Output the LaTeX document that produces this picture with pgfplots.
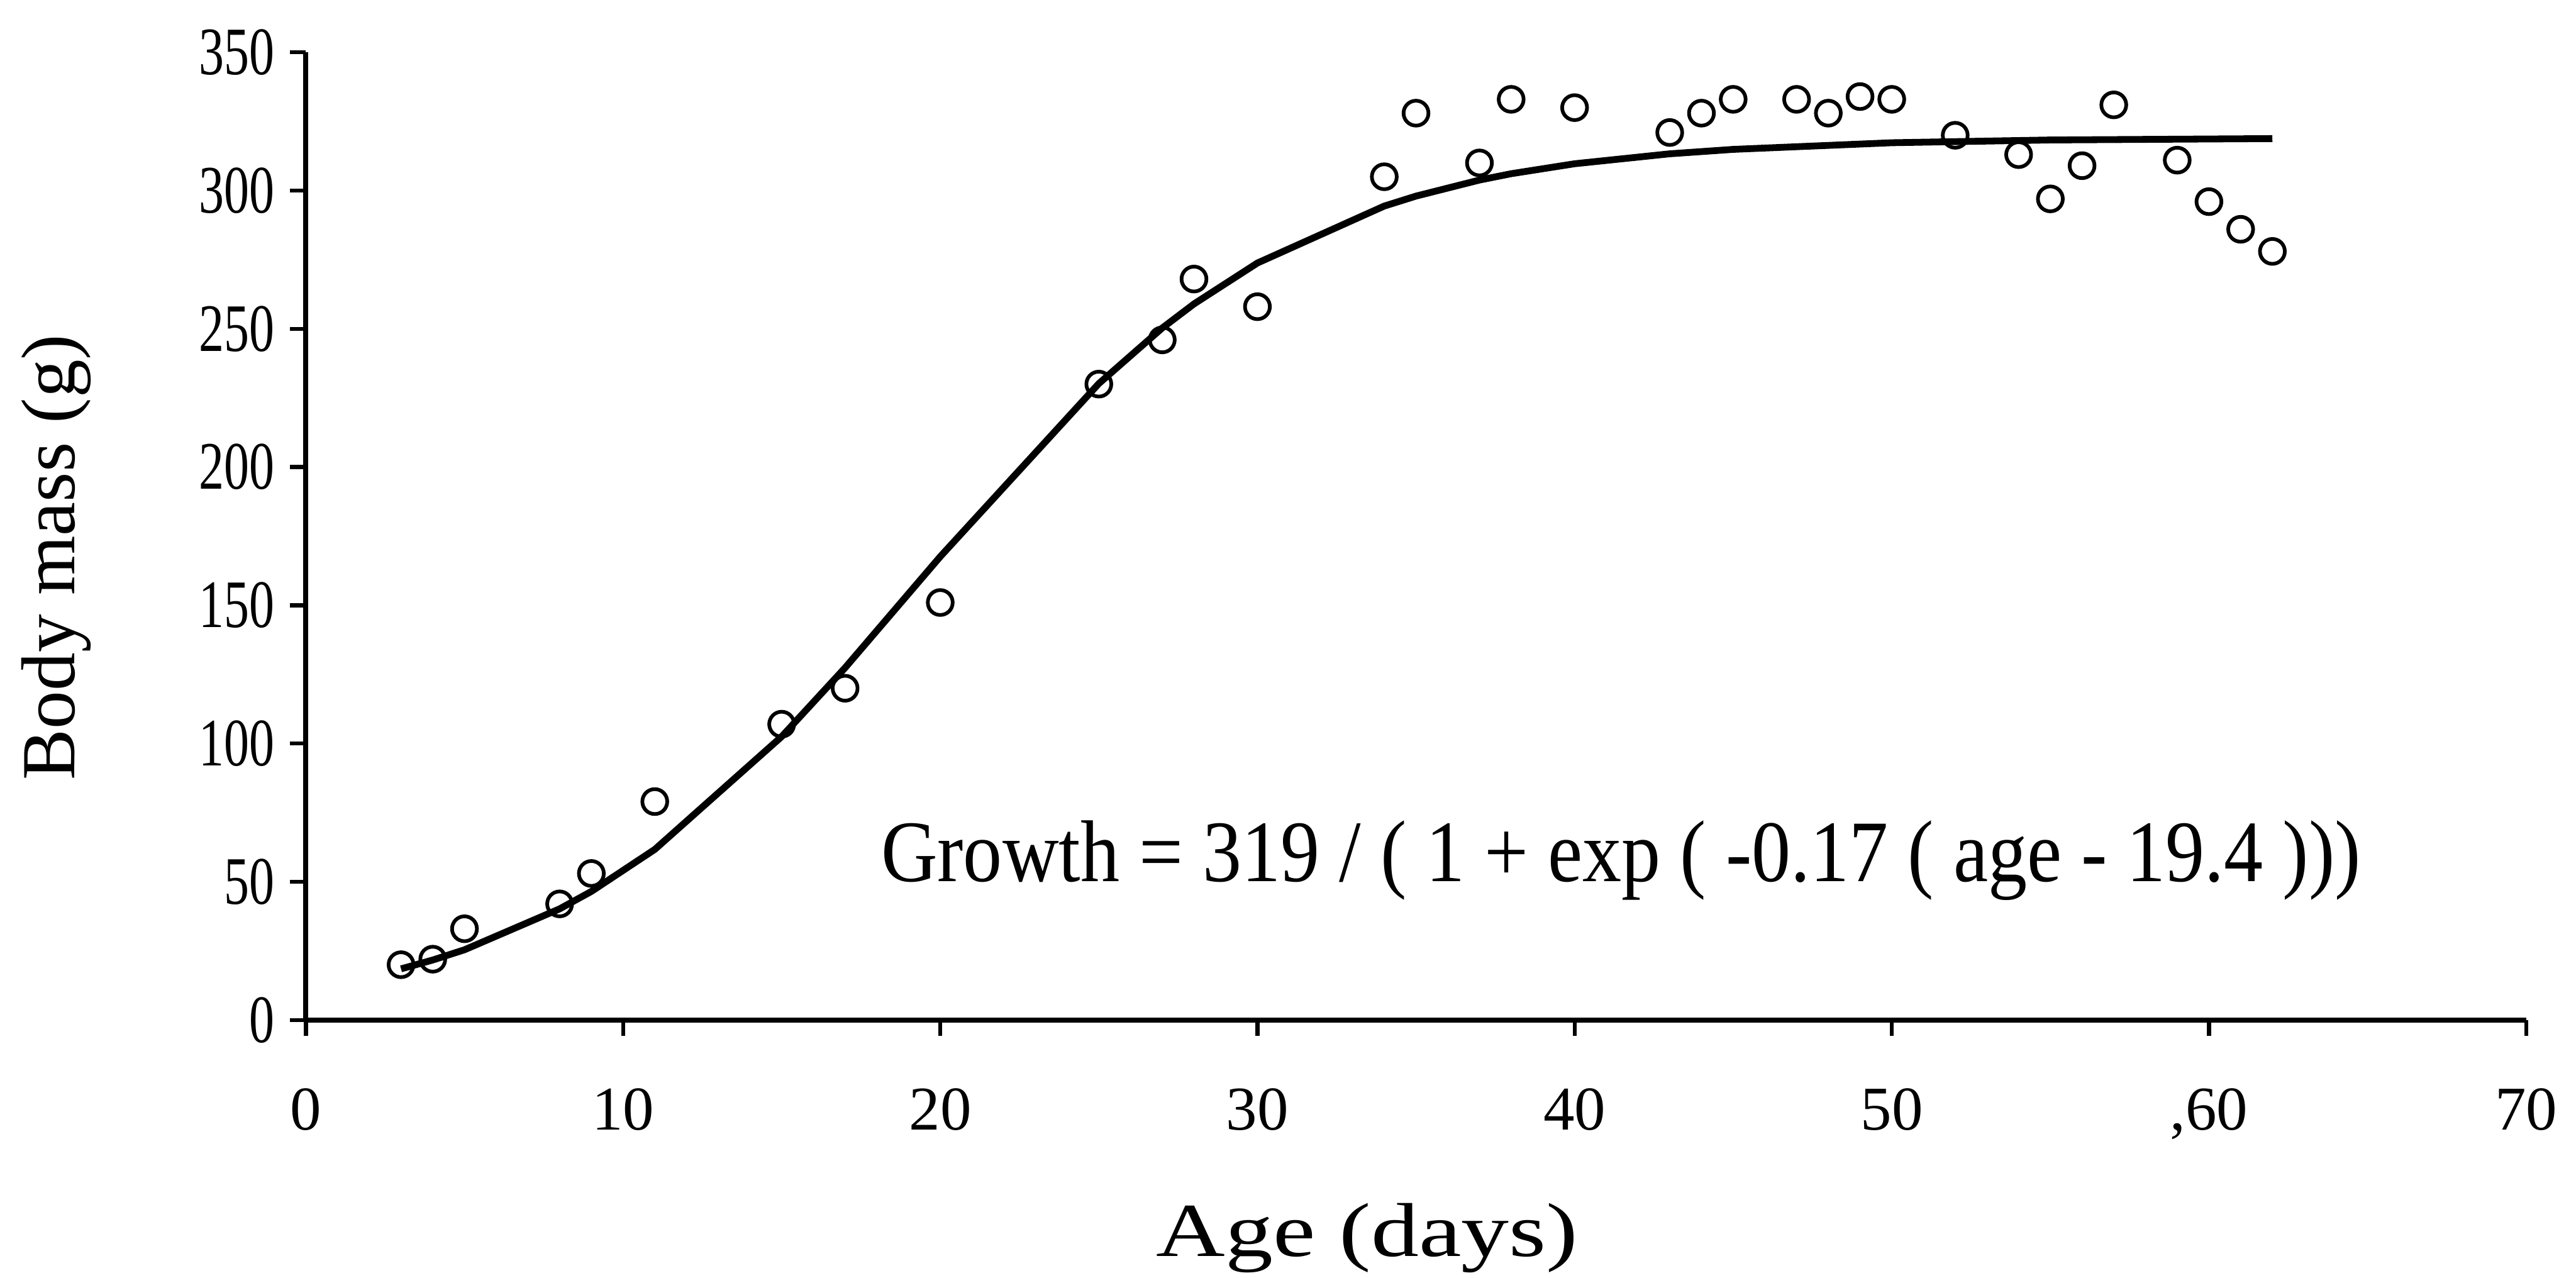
\documentclass[border=0pt]{standalone}
\usepackage{fontspec}
\setmainfont{Liberation Serif}
\newfontfamily\ytickfont[FakeStretch=0.74]{Liberation Serif}
\newfontfamily\formfont[FakeStretch=0.89]{Liberation Serif}
\newfontfamily\xlabfont[FakeStretch=1.25]{Liberation Serif}
\usepackage{pgfplots}
\pgfplotsset{compat=1.18}
\begin{document}
\begin{tikzpicture}
\useasboundingbox (-1.90cm,-1.60cm) rectangle (14.10cm,6.335cm);
\begin{axis}[
  scale only axis,
  width=13.79cm, height=6.01cm,
  at={(0,0)}, anchor=origin,
  xmin=0, xmax=70, ymin=0, ymax=350,
  axis lines*=left,
  axis line style={line width=0.9pt},
  every tick/.style={line width=0.7pt, black},
  tick align=outside,
  major tick length=0.1cm,
  xtick={0,10,20,30,40,50,60,70},
  xticklabels={0,10,20,30,40,50,{,60},70},
  ytick={0,50,100,150,200,250,300,350},
  /pgf/number format/assume math mode=true,
  xticklabel style={font=\fontsize{11}{13}\selectfont, yshift=-0.2cm},
  yticklabel style={font=\fontsize{12}{13}\ytickfont, xshift=0.03cm},
  xlabel={Age (days)}, ylabel={Body mass (g)},
  xlabel style={font=\fontsize{13.5}{16}\xlabfont, at={(axis description cs:0.478,0)}, anchor=base, yshift=-1.467cm},
  ylabel style={font=\fontsize{13.5}{16}\selectfont, yshift=0.43cm, xshift=-0.13cm},
  clip=false,
]
\addplot[black, line width=1.2pt, mark=none] coordinates {
(3,18.5) (4,21.7) (5,25.4) (8,40.2) (9,46.5) (11,61.7) (15,102.5) (17,127.4)
(20,167.6) (25,230.2) (27,250.3) (28,259.0) (30,273.8) (34,294.4) (35,298.0)
(37,303.8) (38,306.1) (40,309.7) (43,313.3) (45,314.9) (50,317.3) (55,318.3) (62,318.8)
};
\addplot[only marks, mark=o, mark size=2.2pt, black, line width=0.65pt] coordinates {
(3,20) (4,22) (5,33) (8,42) (9,53) (11,79) (15,107) (17,120) (20,151)
(25,230) (27,246) (28,268) (30,258) (34,305) (35,328) (37,310) (38,333)
(40,330) (43,321) (44,328) (45,333) (47,333) (48,328) (49,334) (50,333)
(52,320) (54,313) (55,297) (56,309) (57,331) (59,311) (60,296) (61,286) (62,278)
};
\node[anchor=base west, inner sep=0pt, font=\fontsize{15.5}{18}\formfont] at (axis cs:18.1,50)
  {Growth = 319 / ( 1 + exp ( -0.17 ( age - 19.4 )))};
\end{axis}
\end{tikzpicture}
\end{document}
